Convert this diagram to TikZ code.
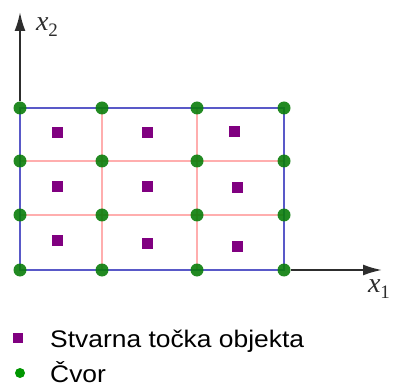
\documentclass[tikz,border=0pt]{standalone}
\usepackage{fontspec}
\setmainfont{Liberation Sans}
\newfontfamily\axisfont{Liberation Serif}
\usetikzlibrary{arrows.meta}
\definecolor{nodegreen}{RGB}{10,125,10}
\definecolor{leggreen}{RGB}{0,150,0}
\definecolor{pointpurple}{RGB}{128,0,128}
\definecolor{gridpink}{RGB}{255,140,140}
\definecolor{frameblue}{RGB}{60,60,190}
\definecolor{axisgray}{RGB}{45,45,45}

\begin{document}
\begin{tikzpicture}[x=1pt, y=-1pt, >={Latex[length=19pt,width=11pt]},
    cvor/.style={circle, fill=nodegreen, inner sep=0pt, minimum size=13pt},
    tocka/.style={fill=pointpurple, inner sep=0pt, minimum size=11pt},
    gridline/.style={gridpink, line width=1.8pt, opacity=0.7},
    frame/.style={frameblue, line width=1.8pt, opacity=0.85},
    axis/.style={axisgray, line width=2pt},
    axislabel/.style={text=axisgray, inner sep=0pt, font=\axisfont\fontsize{28}{28}\selectfont},
    legtext/.style={anchor=base west, inner sep=0pt, xscale=1.1, font=\fontsize{24}{28}\selectfont}]
    \useasboundingbox (0,0) rectangle (393,387);
    % grid node positions
    \foreach \c/\x in {1/20, 2/102, 3/197, 4/284} {
        \foreach \r/\y in {1/108, 2/161, 3/215, 4/270} {
            \coordinate (n\c\r) at (\x,\y);
        }
    }
    % inner grid lines
    \foreach \c in {2, 3} {
        \draw[gridline] (n\c1) -- (n\c4);
        \draw[gridline] (n1\c) -- (n4\c);
    }
    \draw[frame] (n11) -- (n41) -- (n44) -- (n14) -- cycle;
    % grid nodes
    \foreach \c in {1, 2, 3, 4} {
        \foreach \r in {1, 2, 3, 4} {
            \node[cvor, opacity=0.9] (cv\c\r) at (n\c\r) {};
        }
    }
    % axes
    \coordinate (x2end) at (20,12);
    \coordinate (x1end) at (382,270);
    \draw[axis, ->] (cv11) -- (x2end);
    \draw[axis, ->] (cv44) -- (x1end);
    \node[axislabel] (x2lab) at (47,27) {\itshape x\raisebox{-6pt}{\fontsize{19}{19}\selectfont\upshape 2}};
    \node[axislabel] (x1lab) at (379,289) {\itshape x\raisebox{-6pt}{\fontsize{19}{19}\selectfont\upshape 1}};
    % object points
    \foreach \p/\x/\y in {a/57/133, b/147/133, c/234/132, d/57/187, e/147/187, f/237/188, g/57/240, h/147/243, i/237/246} {
        \node[tocka] (p\p) at (\x,\y) {};
    }
    % legend
    \node[tocka, minimum size=10pt] (legsq) at (18,338) {};
    \node[legtext] (legsqtxt) at (50,347) {Stvarna točka objekta};
    \node[cvor, fill=leggreen, minimum size=10pt] (legdot) at (20,373) {};
    \node[legtext] (legdottxt) at (50,382) {Čvor};
\end{tikzpicture}
\end{document}
